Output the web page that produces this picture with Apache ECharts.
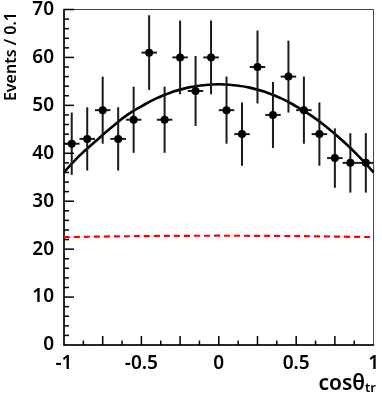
<!DOCTYPE html>
<html>
<head>
<meta charset="utf-8">
<script src="https://cdn.jsdelivr.net/npm/echarts@6/dist/echarts.min.js"></script>
<style>
  html, body { margin: 0; padding: 0; background: #fff; }
  #chart { width: 382px; height: 403px; }
</style>
</head>
<body>
<div id="chart"></div>
<script>
// bin centres in cos(theta_tr)
var binX = [-0.95, -0.85, -0.75, -0.65, -0.55, -0.45, -0.35, -0.25, -0.15, -0.05,
            0.05, 0.15, 0.25, 0.35, 0.45, 0.55, 0.65, 0.75, 0.85, 0.95];
// events per bin
var counts = [42, 43, 49, 43, 47, 61, 47, 60, 53, 60,
              49, 44, 58, 48, 56, 49, 44, 39, 38, 38];
// vertical error
var errs = [6.5, 6.6, 7.0, 6.6, 6.9, 7.8, 6.9, 7.7, 7.3, 7.7,
            7.0, 6.6, 7.6, 6.9, 7.5, 7.0, 6.6, 6.2, 6.2, 6.2];
var halfBin = 0.05;

// fitted curve, sampled from the plot
var fitX = [-1, -0.9, -0.8, -0.7, -0.6, -0.5, -0.4, -0.3, -0.2, -0.1, 0,
            0.1, 0.2, 0.3, 0.4, 0.5, 0.6, 0.7, 0.8, 0.9, 1];
var fitY = [36.0, 39.5, 42.4, 45.2, 47.8, 49.8, 51.5, 52.8, 53.7, 54.2, 54.4,
            54.2, 53.7, 52.8, 51.5, 49.8, 47.8, 45.4, 42.6, 39.5, 36.0];

// background (red dashed)
var bkgX = [-1, 0, 1];
var bkgY = [22.5, 22.8, 22.5];

// tick positions
var xMajor = [-0.75, -0.5, -0.25, 0, 0.25, 0.5, 0.75];
var xMinor = [-0.875, -0.625, -0.375, -0.125, 0.125, 0.375, 0.625, 0.875];
var yMajor = [10, 20, 30, 40, 50, 60, 70];
var yMinor = [2, 4, 6, 8, 12, 14, 16, 18, 22, 24, 26, 28, 32, 34, 36, 38,
              42, 44, 46, 48, 52, 54, 56, 58, 62, 64, 66, 68];

var chart = echarts.init(document.getElementById('chart'));

var pts = binX.map(function (x, i) { return [x, counts[i], errs[i]]; });
var fit = fitX.map(function (x, i) { return [x, fitY[i]]; });
var bkg = bkgX.map(function (x, i) { return [x, bkgY[i]]; });

var font = 'Noto Sans';

chart.setOption({
  animation: false,
  grid: {
    left: 64, right: 7, top: 6, bottom: 58,
    show: true,
    borderColor: '#444',
    borderWidth: 1
  },
  xAxis: {
    type: 'value',
    min: -1, max: 1, interval: 0.25,
    axisLine: { show: true, onZero: false, lineStyle: { color: '#000', width: 1.5 } },
    axisTick: { show: false },
    splitLine: { show: false },
    axisLabel: {
      margin: 9,
      color: '#000',
      fontSize: 19,
      fontWeight: 600,
      fontFamily: font,
      formatter: function (v) {
        return Math.abs(v * 2 - Math.round(v * 2)) < 1e-6 ? String(v) : '';
      }
    }
  },
  yAxis: {
    type: 'value',
    min: 0, max: 70, interval: 10,
    axisLine: { show: true, onZero: false, lineStyle: { color: '#000', width: 1.5 } },
    axisTick: { show: false },
    splitLine: { show: false },
    axisLabel: { margin: 10, color: '#000', fontSize: 19, fontWeight: 600, fontFamily: font }
  },
  series: [
    {
      type: 'line',
      data: bkg,
      smooth: true,
      showSymbol: false,
      lineStyle: { color: '#ff0000', width: 2.2, type: [6, 4] },
      z: 1
    },
    {
      type: 'line',
      data: fit,
      smooth: true,
      showSymbol: false,
      lineStyle: { color: '#000', width: 2.6 },
      z: 2
    },
    {
      type: 'custom',
      data: pts,
      z: 3,
      renderItem: function (params, api) {
        var x = api.value(0), y = api.value(1), e = api.value(2);
        var c = api.coord([x, y]);
        var t = api.coord([x, y + e]);
        var b = api.coord([x, y - e]);
        var l = api.coord([x - halfBin, y]);
        var r = api.coord([x + halfBin, y]);
        var st = { stroke: '#1a1a1a', lineWidth: 2 };
        return {
          type: 'group',
          children: [
            { type: 'line', shape: { x1: t[0], y1: t[1], x2: b[0], y2: b[1] }, style: st },
            { type: 'line', shape: { x1: l[0], y1: l[1], x2: r[0], y2: r[1] }, style: st },
            { type: 'circle', shape: { cx: c[0], cy: c[1], r: 4 }, style: { fill: '#000' } }
          ]
        };
      }
    }
  ]
});

// inside ticks: positions come from the axis scales after layout
var tickEls = [];
var tickStyle = { stroke: '#000', lineWidth: 1.5 };
function xTick(v, len) {
  var p = chart.convertToPixel({ gridIndex: 0 }, [v, 0]);
  tickEls.push({ type: 'line', z: 50, shape: { x1: p[0], y1: p[1], x2: p[0], y2: p[1] - len }, style: tickStyle });
}
function yTick(v, len) {
  var p = chart.convertToPixel({ gridIndex: 0 }, [-1, v]);
  tickEls.push({ type: 'line', z: 50, shape: { x1: p[0], y1: p[1], x2: p[0] + len, y2: p[1] }, style: tickStyle });
}
xMajor.forEach(function (v) { xTick(v, 9); });
xMinor.forEach(function (v) { xTick(v, 4.5); });
yMajor.forEach(function (v) { yTick(v, 10); });
yMinor.forEach(function (v) { yTick(v, 5); });

tickEls.push({
  type: 'text',
  x: 11, y: 12,
  rotation: Math.PI / 2,
  style: {
    text: 'Events / 0.1',
    font: '600 16px "Noto Sans"',
    fill: '#000',
    align: 'right',
    verticalAlign: 'middle'
  }
});
tickEls.push({
  type: 'text',
  right: 6, top: 374,
  style: {
    text: '{a|cosθ}{b|tr}',
    rich: {
      a: { fontSize: 21, fontWeight: 600, fontFamily: font, fill: '#000', verticalAlign: 'bottom' },
      b: { fontSize: 13, fontWeight: 600, fontFamily: font, fill: '#000', verticalAlign: 'bottom' }
    }
  }
});

chart.setOption({ graphic: tickEls });
</script>
</body>
</html>
